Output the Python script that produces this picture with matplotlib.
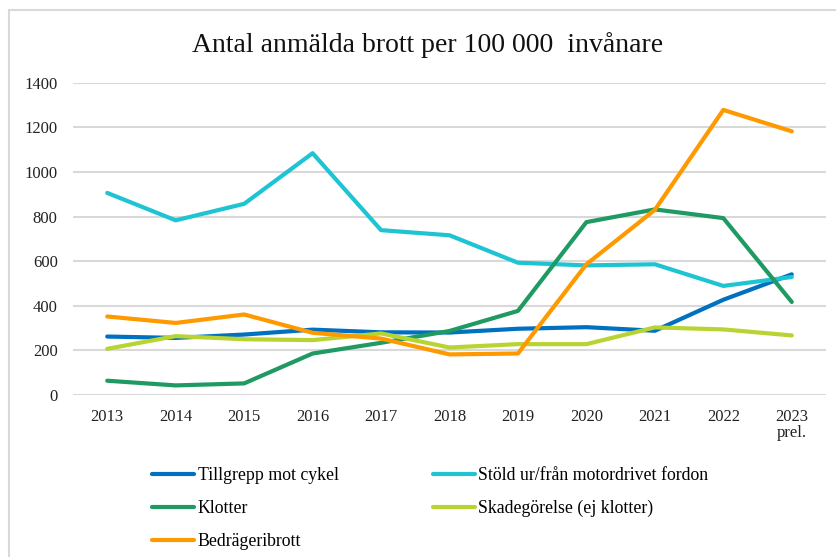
import matplotlib
matplotlib.use("Agg")
import matplotlib.pyplot as plt
from matplotlib.patches import Rectangle

plt.rcParams['font.family'] = ['Liberation Serif', 'DejaVu Serif']

years = ['2013', '2014', '2015', '2016', '2017', '2018', '2019', '2020', '2021', '2022', '2023\nprel.']

cykel = [262, 256, 271, 293, 281, 280, 297, 304, 288, 427, 541]
stold = [906, 783, 857, 1084, 739, 716, 593, 581, 586, 489, 529]
klotter = [64, 43, 52, 186, 234, 287, 377, 775, 832, 793, 417]
skadegorelse = [207, 264, 250, 246, 276, 213, 228, 228, 303, 294, 267]
bedrageri = [352, 323, 361, 279, 253, 182, 186, 586, 830, 1278, 1182]

series = [
    ('Tillgrepp mot cykel', cykel, '#0070C0'),
    ('Stöld ur/från motordrivet fordon', stold, '#1FC4D2'),
    ('Klotter', klotter, '#1E9A62'),
    ('Skadegörelse (ej klotter)', skadegorelse, '#B8D433'),
    ('Bedrägeribrott', bedrageri, '#FF9900'),
]

fig = plt.figure(figsize=(8.37, 5.57), dpi=100)
ax = fig.add_axes([73/837, 1-395/557, (826-73)/837, (395-82.7)/557])

x = list(range(len(years)))
lines = []
for name, vals, col in series:
    ln, = ax.plot(x, vals, color=col, lw=3.0, label=name, solid_capstyle='round')
    lines.append(ln)

ax.set_xlim(-0.5, len(years)-0.5)
ax.set_ylim(0, 1400)
ax.set_yticks(range(0, 1401, 200))
ax.set_xticks(x)
ax.set_xticklabels(years, linespacing=1.0)
ax.tick_params(length=0, labelsize=12, colors='#222222')
ax.tick_params(axis='y', pad=11)
ax.tick_params(axis='x', pad=10)
ax.grid(axis='y', color='#D9D9D9', lw=1.5)
ax.set_axisbelow(True)
for s in ax.spines.values():
    s.set_visible(False)

fig.text(428/837, 1-45/557, 'Antal anmälda brott per 100 000  invånare',
         ha='center', va='center', fontsize=20, color='#111111')

# legend is filled column by column, so reorder to read row by row
order = [0, 2, 4, 1, 3]
fig.legend([lines[i] for i in order], [series[i][0] for i in order],
           loc='upper left', bbox_to_anchor=(152/837, 1-467/557), ncol=2,
           frameon=False, fontsize=12.8, handlelength=2.36, handletextpad=0.2,
           columnspacing=5.3, labelspacing=0.9, borderpad=0, borderaxespad=0)

fig.patches.append(Rectangle((9/837, -0.1), 1.2, 1.1 - 10/557, transform=fig.transFigure,
                             fill=False, ec='#D9D9D9', lw=1.5))

fig.savefig('out.png', dpi=100)
